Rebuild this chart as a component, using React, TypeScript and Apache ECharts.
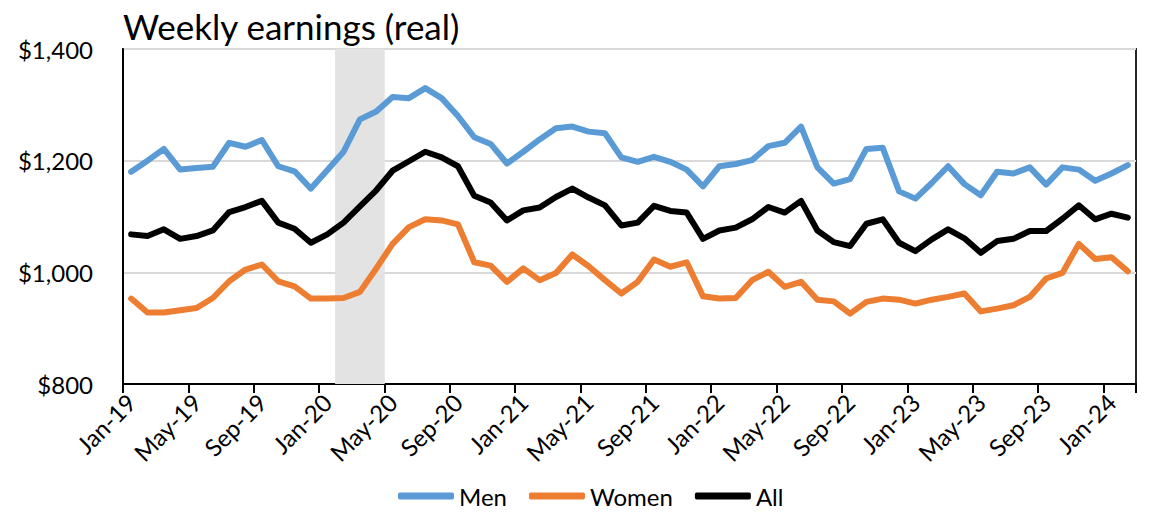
import React, { useEffect, useRef } from "react";
import * as echarts from "echarts";

const categories = [
  "Jan-19","Feb-19","Mar-19","Apr-19","May-19","Jun-19","Jul-19","Aug-19","Sep-19","Oct-19","Nov-19","Dec-19",
  "Jan-20","Feb-20","Mar-20","Apr-20","May-20","Jun-20","Jul-20","Aug-20","Sep-20","Oct-20","Nov-20","Dec-20",
  "Jan-21","Feb-21","Mar-21","Apr-21","May-21","Jun-21","Jul-21","Aug-21","Sep-21","Oct-21","Nov-21","Dec-21",
  "Jan-22","Feb-22","Mar-22","Apr-22","May-22","Jun-22","Jul-22","Aug-22","Sep-22","Oct-22","Nov-22","Dec-22",
  "Jan-23","Feb-23","Mar-23","Apr-23","May-23","Jun-23","Jul-23","Aug-23","Sep-23","Oct-23","Nov-23","Dec-23",
  "Jan-24","Feb-24",
];

const men = [
  1180,1200,1221,1184,1187,1189,1232,1225,1237,1190,1181,1150,
  1183,1216,1274,1288,1314,1312,1330,1312,1280,1242,1230,1195,
  1216,1238,1258,1261,1252,1249,1206,1198,1207,1198,1184,1154,
  1190,1194,1201,1226,1232,1261,1188,1159,1167,1221,1223,1145,
  1132,1160,1190,1158,1138,1180,1177,1188,1157,1188,1184,1164,
  1177,1192,
];

const women = [
  953,928,928,932,936,954,984,1005,1014,984,975,953,
  953,954,965,1007,1051,1081,1095,1093,1086,1018,1012,983,
  1007,986,999,1032,1011,986,962,983,1023,1010,1018,957,
  953,954,986,1001,974,983,951,948,926,947,953,951,
  944,951,956,962,930,935,941,956,989,999,1051,1024,
  1027,1002,
];

const all = [
  1068,1065,1077,1060,1065,1075,1108,1117,1128,1089,1078,1053,
  1068,1089,1118,1147,1182,1199,1216,1206,1190,1137,1125,1093,
  1111,1116,1135,1150,1134,1120,1084,1089,1119,1110,1107,1060,
  1075,1080,1095,1117,1107,1128,1075,1054,1047,1087,1095,1053,
  1038,1059,1077,1061,1035,1056,1060,1074,1074,1096,1120,1095,
  1105,1098,
];

// Shaded period (Feb-20 to Apr-20)
const shadedMonths = ["Feb-20", "Mar-20", "Apr-20"];
const shadeTop = 1400;

const yTicks = { min: 800, max: 1400, interval: 200 };

const FONT = "Lato, 'Open Sans', sans-serif";

export default function App() {
  const ref = useRef<HTMLDivElement>(null);

  useEffect(() => {
    if (!ref.current) return;
    const chart = echarts.init(ref.current, undefined, { renderer: "svg" });
    const shade = categories.map((c) => (shadedMonths.includes(c) ? shadeTop : null));
    const lineSeries = (name: string, data: number[], color: string) => ({
      name,
      type: "line",
      data,
      symbol: "none",
      smooth: false,
      z: 3,
      lineStyle: { color, width: 6, cap: "round", join: "round" },
      itemStyle: { color },
    });
    chart.setOption({
      animation: false,
      backgroundColor: "#ffffff",
      textStyle: { fontFamily: FONT },
      title: {
        text: "Weekly earnings (real)",
        left: 118,
        top: 3,
        textStyle: { fontFamily: FONT, fontSize: 35, fontWeight: "normal", color: "#000" },
      },
      legend: {
        data: ["Men", "Women", "All"],
        left: 393,
        top: 479,
        icon: "roundRect",
        itemWidth: 56,
        itemHeight: 7,
        itemGap: 22,
        textStyle: { fontFamily: FONT, fontSize: 24, color: "#000" },
      },
      grid: {
        left: 123,
        right: 18,
        top: 49,
        bottom: 128,
        show: true,
        borderColor: "#262626",
        borderWidth: 2,
        containLabel: false,
      },
      xAxis: {
        type: "category",
        data: categories,
        boundaryGap: true,
        axisLine: { show: true, lineStyle: { color: "#000", width: 2 } },
        axisTick: {
          show: true,
          interval: 3,
          length: 9,
          alignWithLabel: false,
          lineStyle: { color: "#000", width: 2 },
        },
        axisLabel: {
          interval: 3,
          rotate: 45,
          margin: 14,
          fontFamily: FONT,
          fontSize: 24,
          color: "#000",
        },
        splitLine: { show: false },
      },
      yAxis: {
        type: "value",
        min: yTicks.min,
        max: yTicks.max,
        interval: yTicks.interval,
        axisLine: { show: true, lineStyle: { color: "#000", width: 2 } },
        axisTick: { show: false },
        axisLabel: {
          margin: 30,
          fontFamily: FONT,
          fontSize: 24,
          color: "#000",
          formatter: (v: number) => "$" + v.toLocaleString("en-US"),
        },
        splitLine: { show: true, lineStyle: { color: "#D9D9D9", width: 2 } },
      },
      series: [
        {
          name: "Recession",
          type: "bar",
          data: shade,
          barWidth: "104%",
          barCategoryGap: "0%",
          itemStyle: { color: "#E3E3E3" },
          z: 1,
          silent: true,
        },
        lineSeries("Men", men, "#5B9BD5"),
        lineSeries("Women", women, "#ED7D31"),
        lineSeries("All", all, "#000000"),
      ],
    });
    return () => chart.dispose();
  }, []);

  return (
    <div
      ref={ref}
      style={{ position: "fixed", left: 0, top: 0, width: 1154, height: 512 }}
    />
  );
}
